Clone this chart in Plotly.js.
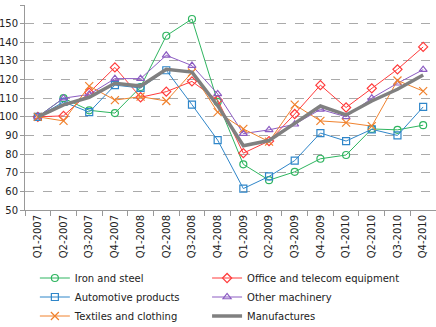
<!DOCTYPE html>
<html>
<head>
<meta charset="utf-8">
<script src="https://cdn.plot.ly/plotly-3.0.1.min.js"></script>
<style>html,body{margin:0;padding:0;background:#fff;}#chart{width:436px;height:327px;}</style>
</head>
<body>
<div id="chart"></div>
<script>
var quarters = ["Q1-2007","Q2-2007","Q3-2007","Q4-2007","Q1-2008","Q2-2008","Q3-2008","Q4-2008",
                "Q1-2009","Q2-2009","Q3-2009","Q4-2009","Q1-2010","Q2-2010","Q3-2010","Q4-2010"];
var ironSteel   = [100,110,103.5,102,116,143.5,152.5,108,74.5,66,70.5,77.5,79.5,93.5,93,95.5];
var officeTel   = [100,100.5,113,126.5,110.5,113.5,119,109,80.5,87,101.5,117,105,115.3,125.5,137.5];
var automotive  = [100,108,102.5,117,115.5,125,106.5,87.5,61.5,68,76.5,91.3,87,93.3,90,105.3];
var otherMach   = [100,110,112,120.5,120.5,133,127.5,112.3,91,93,96,104,100,110,118,125.3];
var textiles    = [100,97.8,116.5,109,110.8,108.5,123.8,102.5,93.5,86.7,106.5,97.8,96.9,95,119.5,113.8];
var manufactures= [100,106.4,110.5,118,116.5,125.5,124,106,84.5,87.3,96.5,105.8,101,108.5,114.8,122.4];
var yTicks = [50,60,70,80,90,100,110,120,130,140,150,160];

function series(name, y, color, symbol, leg, size) {
  return {type:'scatter', mode:'lines+markers', name:name, x:quarters, y:y, legend:leg,
    line:{color:color, width:1},
    marker:{symbol:symbol, size:size || 7, color:color, line:{color:color, width:1.2}}};
}
var traces = [
  series('Iron and steel', ironSteel, '#2fb560', 'circle-open', 'legend'),
  series('Office and telecom equipment', officeTel, '#ff3b3b', 'diamond-open', 'legend2'),
  series('Automotive products', automotive, '#2f86c9', 'square-open', 'legend'),
  series('Other machinery', otherMach, '#8c5cc2', 'triangle-up-open', 'legend2'),
  series('Textiles and clothing', textiles, '#f0822e', 'x-thin-open', 'legend', 8),
  {type:'scatter', mode:'lines', name:'Manufactures', x:quarters, y:manufactures, legend:'legend2',
    line:{color:'#808080', width:3.5}}
];
var legFont = {family:'DejaVu Sans', size:10, color:'#222'};
var layout = {
  width:436, height:327,
  margin:{l:25, r:0, t:5, b:117, autoexpand:false},
  paper_bgcolor:'#fff', plot_bgcolor:'#fff',
  font:{family:'DejaVu Sans', size:10, color:'#222'},
  showlegend:true,
  legend:{orientation:'v', x:0.024, xanchor:'left', y:-0.261, yanchor:'top',
    font:legFont, tracegroupgap:0, traceorder:'normal', bgcolor:'rgba(0,0,0,0)'},
  legend2:{orientation:'v', x:0.443, xanchor:'left', y:-0.261, yanchor:'top',
    font:legFont, tracegroupgap:0, traceorder:'normal', bgcolor:'rgba(0,0,0,0)'},
  xaxis:{type:'category', range:[-0.5,15.5], tickangle:-90, tickson:'boundaries',
    ticks:'outside', ticklen:5, tickcolor:'#999', showline:true, linecolor:'#999', linewidth:1,
    showgrid:false, zeroline:false, tickfont:{family:'DejaVu Sans', size:10, color:'#222'}, fixedrange:true},
  yaxis:{range:[50,160], tickvals:yTicks, ticks:'outside', ticklen:4, tickcolor:'#999',
    showline:true, linecolor:'#999', linewidth:1, showgrid:true, gridcolor:'#aaa', griddash:'dash',
    gridwidth:1, zeroline:false, tickfont:{family:'DejaVu Sans', size:10, color:'#222'}, fixedrange:true}
};
Plotly.newPlot('chart', traces, layout, {displayModeBar:false, staticPlot:true});
</script>
</body>
</html>
